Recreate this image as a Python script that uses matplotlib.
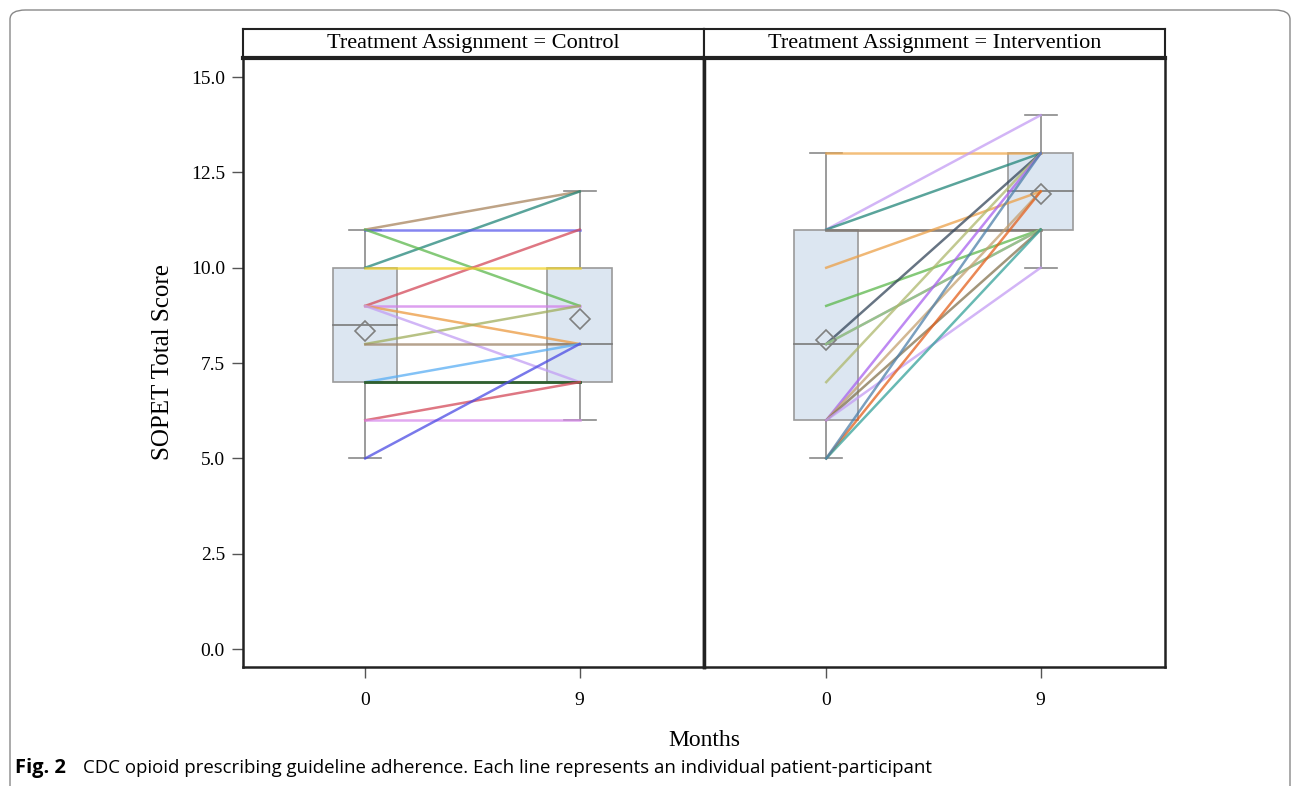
import matplotlib
matplotlib.use("Agg")
import matplotlib.pyplot as plt
from matplotlib.patches import FancyBboxPatch, Rectangle
import numpy as np

# months on the x axis, two visits
months = ["0", "9"]
panels = ["Control", "Intervention"]

# one entry per patient-participant: score at month 0, score at month 9
control_m0 = [11, 10, 11, 11, 9, 10, 9, 9, 8, 9, 8, 7, 7, 7, 7, 6, 6, 5]
control_m9 = [12, 12, 11, 9, 11, 10, 9, 8, 9, 7, 8, 8, 7, 7, 7, 7, 6, 8]
control_colors = ["#a8845e", "#23867a", "#5c5cec", "#5cb84c", "#d44a5a",
                  "#f2d42a", "#d280ea", "#eb9a40", "#a0ae5c", "#c29ef4",
                  "#9e8468", "#5aaef4", "#2e5e2e", "#2e5e2e", "#2e5e2e",
                  "#d44a5a", "#d88cec", "#4c4ce4"]

interv_m0 = [13, 11, 11, 11, 11, 10, 9, 8, 8, 8, 7, 6, 6, 6, 6, 5, 5, 5]
interv_m9 = [13, 14, 13, 11, 11, 12, 11, 13, 11, 11, 13, 13, 12, 11, 10, 12, 11, 13]
interv_colors = ["#f0aa50", "#c49cf4", "#23867a", "#8e7460", "#7e7e7e",
                 "#eca048", "#5cb84c", "#34465a", "#d496a8", "#80c880",
                 "#aeb86c", "#a862ee", "#c4a070", "#84734f", "#c49cf4",
                 "#e4601c", "#36a29a", "#4e80aa"]

yticks = [0.0, 2.5, 5.0, 7.5, 10.0, 12.5, 15.0]


def box_stats(vals):
    v = np.array(vals, dtype=float)
    q1, med, q3 = np.percentile(v, [25, 50, 75], method="averaged_inverted_cdf")
    iqr = q3 - q1
    lo = v[v >= q1 - 1.5 * iqr].min()
    hi = v[v <= q3 + 1.5 * iqr].max()
    return q1, med, q3, lo, hi, v.mean()


W, H = 1295, 786
fig = plt.figure(figsize=(W / 100, H / 100), dpi=100)
plt.rcParams["font.family"] = ["Liberation Serif", "DejaVu Serif"]

left, mid, right = 243 / W, 704 / W, 1165 / W
bot, top, htop = 1 - 667 / H, 1 - 58 / H, 1 - 29 / H

data = [(control_m0, control_m9, control_colors),
        (interv_m0, interv_m9, interv_colors)]
edges = [(left, mid), (mid, right)]
axes = []
for k, (name, (m0, m9, cols), (x0, x1)) in enumerate(zip(panels, data, edges)):
    ax = fig.add_axes([x0, bot, x1 - x0, top - bot])
    axes.append(ax)
    # boxes
    for xi, vals in enumerate([m0, m9]):
        q1, med, q3, lo, hi, mean = box_stats(vals)
        bw = 0.30
        ax.add_patch(Rectangle((xi - bw / 2, q1), bw, q3 - q1,
                               facecolor="#dce6f1", edgecolor="#9a9a9a",
                               lw=1.2, zorder=1))
        ax.plot([xi - bw / 2, xi + bw / 2], [med, med], color="#7a7a7a", lw=1.2, zorder=1)
        ax.plot([xi, xi], [q3, hi], color="#8a8a8a", lw=1.2, zorder=1)
        ax.plot([xi, xi], [lo, q1], color="#8a8a8a", lw=1.2, zorder=1)
        for w in (lo, hi):
            ax.plot([xi - 0.075, xi + 0.075], [w, w], color="#8a8a8a", lw=1.2, zorder=1)
        ax.plot([xi], [mean], marker="D", ms=10, mfc="none", mec="#808080",
                mew=1.2, zorder=4)
    # patient lines
    for a, b, c in zip(m0, m9, cols):
        ax.plot([0, 1], [a, b], color=c, lw=1.8, alpha=0.75, zorder=3)
    ax.set_xlim(-0.57, 1.58)
    ax.set_ylim(-0.47, 15.5)
    ax.set_xticks([0, 1])
    ax.set_xticklabels(months, fontsize=14)
    ax.tick_params(axis="x", length=8, width=1, color="#555555", pad=10)
    if k == 0:
        ax.set_yticks(yticks)
        ax.set_yticklabels([f"{t:.1f}" for t in yticks], fontsize=14)
        ax.tick_params(axis="y", length=8, width=1, color="#555555", pad=5)
        ax.set_ylabel("SOPET Total Score", fontsize=18, labelpad=12)
    else:
        ax.set_yticks([])
    for s in ax.spines.values():
        s.set_linewidth(1.8)
        s.set_color("#222222")
    # header strip
    hx = fig.add_axes([x0, top, x1 - x0, htop - top])
    hx.set_xticks([])
    hx.set_yticks([])
    for s in hx.spines.values():
        s.set_linewidth(1.5)
        s.set_color("#222222")
    hx.spines["bottom"].set_linewidth(3)
    hx.text(0.5, 0.5, f"Treatment Assignment = {name}", ha="center", va="center",
            fontsize=16, transform=hx.transAxes)

axes[0].spines["right"].set_linewidth(2.5)
axes[1].spines["left"].set_linewidth(2.5)

fig.text(704 / W, 1 - 741 / H, "Months", ha="center", va="center", fontsize=17)

# frame and caption
frame = FancyBboxPatch((10 / W, -0.05), 1280 / W, 1 - 10 / H + 0.05,
                       boxstyle="round,pad=0,rounding_size=0.012",
                       transform=fig.transFigure, fill=False,
                       edgecolor="#888888", lw=1.0)
fig.patches.append(frame)
fig.text(15 / W, 1 - 768 / H, "Fig. 2", ha="left", va="center", fontsize=14.5,
         fontweight="bold", family=["Open Sans", "DejaVu Sans"])
fig.text(83 / W, 1 - 768 / H,
         "CDC opioid prescribing guideline adherence. Each line represents an individual patient-participant",
         ha="left", va="center", fontsize=13.4, family=["Open Sans", "DejaVu Sans"])

fig.savefig("out.png", dpi=100)
